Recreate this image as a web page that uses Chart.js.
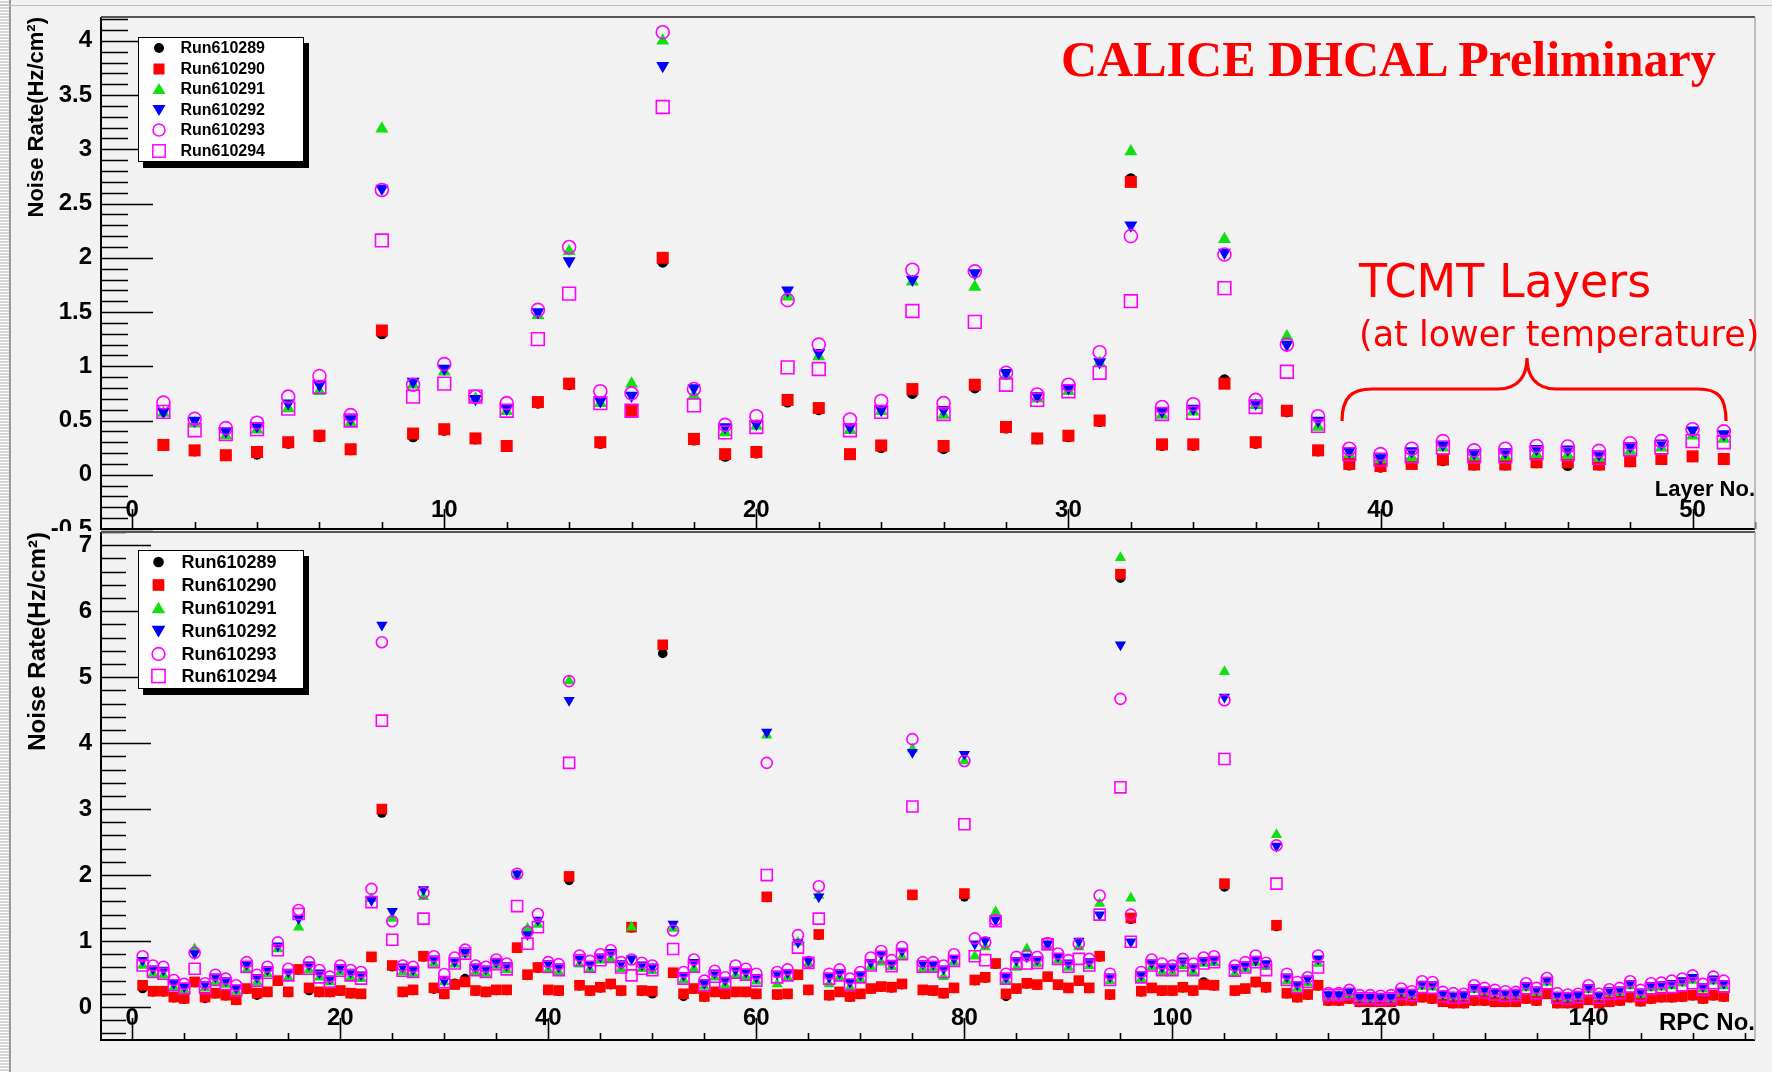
<!DOCTYPE html>
<html>
<head>
<meta charset="utf-8">
<script src="https://cdn.jsdelivr.net/npm/chart.js@4.4.0/dist/chart.umd.min.js"></script>
<style>
  body { margin: 0; background: #f2f2f2; }
  #page { position: relative; width: 1772px; height: 1072px; overflow: hidden; background: #f2f2f2;
          font-family: "Liberation Sans", Arial, Helvetica, sans-serif; }
  #page canvas { position: absolute; left: 0; }
  .strip { position: absolute; left: 0; top: 0; width: 9px; height: 1072px;
           background: repeating-linear-gradient(#ffffff 0 1px, #d6d6d6 1px 3px); }
  .vline { position: absolute; left: 9px; top: 0; width: 1.5px; height: 1072px; background: #9a9a9a; }
  .hline { position: absolute; left: 0; top: 5px; width: 1772px; height: 1px; background: #bdbdbd; }
  .legend { position: absolute; left: 138px; width: 166px; box-sizing: border-box; background: #fff;
            border: 1.5px solid #000; box-shadow: 5px 6px 0 #000; font-weight: bold; color: #000; }
  .legend .row { position: relative; }
  .legend svg { position: absolute; top: 50%; transform: translateY(-50%); }
  .legend span { position: absolute; top: 50%; transform: translateY(-50%); white-space: nowrap; }
  .note { position: absolute; white-space: nowrap; color: #ff0000; line-height: 1; }
</style>
</head>
<body>
<div id="page">
  <div class="strip"></div>
  <div class="vline"></div>
  <div class="hline"></div>
  <canvas id="layerChart" width="1772" height="531" style="top:0;width:1772px;height:531px"></canvas>
  <canvas id="rpcChart" width="1772" height="541" style="top:531px;width:1772px;height:541px"></canvas>
  <div id="legendTop" class="legend" style="top:37px;font-size:16px"></div>
  <div id="legendBottom" class="legend" style="top:550px;font-size:18px"></div>
  <div class="note" style="left:1061px;top:34px;font:bold 50px 'Liberation Serif','Times New Roman',serif;line-height:1">CALICE DHCAL Preliminary</div>
  <div class="note" style="left:1359px;top:258px;font:46px 'DejaVu Sans',Verdana,sans-serif;line-height:1">TCMT Layers</div>
  <div class="note" style="left:1359px;top:317px;font:35px 'DejaVu Sans',Verdana,sans-serif;line-height:1">(at lower temperature)</div>
  <svg style="position:absolute;left:0;top:0" width="1772" height="1072">
    <path d="M1342,421 C1342,397 1352,389 1372,389 L1498,389 C1518,389 1527,376 1527,358 C1527,376 1536,389 1556,389 L1698,389 C1718,389 1726,397 1726,421"
          fill="none" stroke="#ff0000" stroke-width="3.2"/>
  </svg>
</div>
<script>
// ---- top panel: noise rate per layer ----
const layerNo = Array.from({ length: 51 }, (_, i) => i + 1);

const lay289 = [0.27, 0.22, 0.18, 0.19, 0.29, 0.35, 0.23, 1.30, 0.35, 0.41,
  0.33, 0.26, 0.66, 0.83, 0.29, 0.60, 1.96, 0.32, 0.17, 0.20,
  0.67, 0.60, 0.19, 0.25, 0.75, 0.24, 0.80, 0.43, 0.33, 0.35,
  0.49, 2.73, 0.27, 0.27, 0.875, 0.29, 0.58, 0.22, 0.09, 0.07,
  0.10, 0.13, 0.09, 0.09, 0.11, 0.085, 0.09, 0.12, 0.14, 0.165, 0.14];
const lay290 = [0.275, 0.225, 0.18, 0.21, 0.30, 0.36, 0.235, 1.33, 0.38, 0.42,
  0.335, 0.265, 0.67, 0.84, 0.30, 0.59, 2.00, 0.33, 0.19, 0.21,
  0.69, 0.615, 0.19, 0.27, 0.79, 0.265, 0.83, 0.44, 0.335, 0.36,
  0.50, 2.70, 0.28, 0.28, 0.84, 0.30, 0.59, 0.225, 0.10, 0.08,
  0.10, 0.14, 0.095, 0.095, 0.115, 0.115, 0.095, 0.125, 0.145, 0.17, 0.145];
const lay291 = [0.57, 0.47, 0.36, 0.415, 0.61, 0.77, 0.48, 3.19, 0.83, 0.95,
  0.70, 0.585, 1.47, 2.06, 0.66, 0.84, 4.00, 0.73, 0.39, 0.45,
  1.64, 1.09, 0.41, 0.585, 1.78, 0.55, 1.73, 0.91, 0.70, 0.77,
  1.03, 2.98, 0.55, 0.58, 2.17, 0.64, 1.275, 0.44, 0.19, 0.14,
  0.16, 0.25, 0.165, 0.165, 0.19, 0.18, 0.155, 0.22, 0.25, 0.36, 0.33];
const lay292 = [0.58, 0.50, 0.40, 0.45, 0.66, 0.83, 0.515, 2.64, 0.86, 0.98,
  0.70, 0.61, 1.50, 1.97, 0.68, 0.73, 3.77, 0.80, 0.44, 0.47,
  1.70, 1.125, 0.44, 0.60, 1.80, 0.60, 1.86, 0.94, 0.725, 0.80,
  1.04, 2.30, 0.585, 0.61, 2.05, 0.66, 1.20, 0.50, 0.22, 0.155,
  0.22, 0.28, 0.20, 0.21, 0.24, 0.235, 0.19, 0.265, 0.29, 0.41, 0.375];
const lay293 = [0.665, 0.515, 0.43, 0.48, 0.72, 0.91, 0.55, 2.625, 0.83, 1.02,
  0.72, 0.66, 1.52, 2.10, 0.77, 0.75, 4.08, 0.79, 0.46, 0.54,
  1.61, 1.20, 0.51, 0.68, 1.89, 0.66, 1.875, 0.94, 0.74, 0.83,
  1.13, 2.20, 0.625, 0.65, 2.03, 0.69, 1.20, 0.54, 0.24, 0.19,
  0.24, 0.31, 0.225, 0.24, 0.265, 0.26, 0.22, 0.29, 0.31, 0.42, 0.40];
const lay294 = [0.58, 0.41, 0.375, 0.42, 0.61, 0.81, 0.50, 2.16, 0.72, 0.84,
  0.72, 0.59, 1.25, 1.67, 0.66, 0.59, 3.39, 0.64, 0.39, 0.44,
  0.99, 0.975, 0.41, 0.58, 1.51, 0.56, 1.41, 0.83, 0.69, 0.77,
  0.94, 1.60, 0.56, 0.57, 1.72, 0.625, 0.95, 0.45, 0.19, 0.14,
  0.17, 0.25, 0.17, 0.17, 0.20, 0.19, 0.155, 0.235, 0.25, 0.31, 0.30];

// ---- bottom panel: noise rate per RPC ----
const rpcNo = Array.from({ length: 153 }, (_, i) => i + 1);

const rpc289 = [0.28, 0.23, 0.23, 0.14, 0.12, 0.37, 0.13, 0.20, 0.17, 0.10,
  0.27, 0.18, 0.22, 0.39, 0.22, 0.56, 0.25, 0.22, 0.22, 0.24,
  0.20, 0.19, 0.75, 2.94, 0.61, 0.22, 0.25, 0.76, 0.27, 0.19,
  0.36, 0.43, 0.24, 0.22, 0.25, 0.25, 0.89, 0.48, 0.59, 0.25,
  0.24, 1.92, 0.32, 0.24, 0.29, 0.34, 0.24, 1.20, 0.24, 0.20,
  5.36, 0.51, 0.16, 0.27, 0.15, 0.22, 0.19, 0.22, 0.22, 0.19,
  1.66, 0.18, 0.19, 0.48, 0.25, 1.09, 0.17, 0.22, 0.15, 0.19,
  0.27, 0.30, 0.29, 0.34, 1.69, 0.25, 0.24, 0.20, 0.28, 1.67,
  0.40, 0.44, 0.65, 0.16, 0.27, 0.35, 0.33, 0.45, 0.33, 0.28,
  0.39, 0.28, 0.76, 0.18, 6.50, 1.33, 0.23, 0.28, 0.24, 0.24,
  0.29, 0.24, 0.38, 0.32, 1.82, 0.24, 0.27, 0.37, 0.29, 1.22,
  0.20, 0.14, 0.18, 0.32, 0.09, 0.09, 0.12, 0.07, 0.07, 0.07,
  0.07, 0.09, 0.09, 0.14, 0.12, 0.07, 0.05, 0.05, 0.09, 0.09,
  0.07, 0.07, 0.07, 0.12, 0.09, 0.19, 0.05, 0.05, 0.05, 0.10,
  0.05, 0.07, 0.09, 0.14, 0.08, 0.12, 0.14, 0.14, 0.15, 0.17,
  0.12, 0.17, 0.15];
const rpc290 = [0.33, 0.24, 0.24, 0.15, 0.13, 0.38, 0.15, 0.21, 0.18, 0.11,
  0.28, 0.21, 0.23, 0.40, 0.23, 0.57, 0.29, 0.23, 0.23, 0.25,
  0.21, 0.20, 0.76, 3.00, 0.63, 0.23, 0.26, 0.77, 0.29, 0.20,
  0.34, 0.38, 0.25, 0.23, 0.26, 0.26, 0.90, 0.49, 0.60, 0.26,
  0.25, 1.98, 0.33, 0.25, 0.30, 0.35, 0.25, 1.21, 0.25, 0.24,
  5.49, 0.52, 0.20, 0.28, 0.16, 0.23, 0.20, 0.23, 0.23, 0.20,
  1.67, 0.19, 0.20, 0.49, 0.26, 1.10, 0.18, 0.23, 0.16, 0.20,
  0.28, 0.31, 0.30, 0.35, 1.70, 0.26, 0.25, 0.21, 0.29, 1.72,
  0.41, 0.45, 0.66, 0.20, 0.28, 0.36, 0.34, 0.46, 0.34, 0.29,
  0.40, 0.29, 0.77, 0.19, 6.56, 1.35, 0.24, 0.29, 0.25, 0.25,
  0.30, 0.25, 0.34, 0.33, 1.87, 0.25, 0.28, 0.38, 0.30, 1.24,
  0.21, 0.15, 0.19, 0.33, 0.10, 0.10, 0.13, 0.08, 0.08, 0.08,
  0.08, 0.10, 0.10, 0.15, 0.13, 0.08, 0.06, 0.06, 0.10, 0.10,
  0.08, 0.08, 0.08, 0.13, 0.10, 0.20, 0.06, 0.06, 0.06, 0.11,
  0.06, 0.08, 0.10, 0.15, 0.09, 0.13, 0.15, 0.15, 0.16, 0.18,
  0.13, 0.18, 0.16];
const rpc291 = [0.63, 0.505, 0.48, 0.30, 0.26, 0.88, 0.29, 0.38, 0.34, 0.24,
  0.56, 0.38, 0.505, 0.88, 0.45, 1.21, 0.56, 0.45, 0.38, 0.53,
  0.45, 0.43, 1.64, 7.50, 1.34, 0.53, 0.505, 1.67, 0.66, 0.38,
  0.65, 0.80, 0.53, 0.505, 0.63, 0.56, 2.00, 1.19, 1.25, 0.56,
  0.53, 4.94, 0.65, 0.57, 0.71, 0.73, 0.58, 1.21, 0.58, 0.55,
  10.9, 1.19, 0.41, 0.58, 0.31, 0.45, 0.33, 0.48, 0.46, 0.39,
  4.12, 0.35, 0.45, 0.98, 0.66, 1.69, 0.35, 0.45, 0.30, 0.43,
  0.61, 0.68, 0.61, 0.76, 3.91, 0.58, 0.58, 0.46, 0.68, 3.73,
  0.77, 0.91, 1.44, 0.40, 0.60, 0.88, 0.66, 0.93, 0.71, 0.60,
  0.91, 0.62, 1.57, 0.39, 6.81, 1.65, 0.43, 0.61, 0.53, 0.52,
  0.62, 0.53, 0.66, 0.67, 5.08, 0.505, 0.58, 0.67, 0.61, 2.61,
  0.39, 0.28, 0.36, 0.66, 0.16, 0.16, 0.19, 0.13, 0.12, 0.13,
  0.12, 0.21, 0.18, 0.31, 0.30, 0.17, 0.15, 0.15, 0.26, 0.23,
  0.20, 0.18, 0.18, 0.29, 0.22, 0.37, 0.15, 0.13, 0.15, 0.26,
  0.15, 0.21, 0.22, 0.32, 0.19, 0.29, 0.30, 0.32, 0.36, 0.40,
  0.27, 0.39, 0.32];
const rpc292 = [0.71, 0.58, 0.56, 0.36, 0.31, 0.81, 0.34, 0.46, 0.40, 0.29,
  0.65, 0.45, 0.57, 0.93, 0.53, 1.34, 0.64, 0.52, 0.43, 0.60,
  0.53, 0.49, 1.62, 5.79, 1.45, 0.61, 0.57, 1.78, 0.73, 0.40,
  0.69, 0.83, 0.61, 0.58, 0.68, 0.63, 2.02, 1.10, 1.32, 0.66,
  0.61, 4.65, 0.73, 0.65, 0.76, 0.83, 0.66, 0.73, 0.64, 0.61,
  10.1, 1.26, 0.48, 0.68, 0.36, 0.52, 0.41, 0.56, 0.53, 0.45,
  4.17, 0.505, 0.52, 0.98, 0.71, 1.67, 0.45, 0.52, 0.38, 0.49,
  0.68, 0.80, 0.66, 0.85, 3.86, 0.66, 0.65, 0.58, 0.73, 3.83,
  0.96, 1.01, 1.32, 0.45, 0.71, 0.76, 0.72, 0.96, 0.77, 0.67,
  1.00, 0.69, 1.40, 0.46, 5.49, 0.99, 0.49, 0.67, 0.61, 0.61,
  0.70, 0.61, 0.71, 0.72, 4.70, 0.60, 0.63, 0.71, 0.66, 2.44,
  0.46, 0.34, 0.43, 0.73, 0.19, 0.19, 0.24, 0.15, 0.15, 0.15,
  0.15, 0.24, 0.21, 0.35, 0.34, 0.20, 0.18, 0.18, 0.30, 0.26,
  0.23, 0.21, 0.21, 0.33, 0.26, 0.41, 0.18, 0.16, 0.18, 0.30,
  0.18, 0.25, 0.26, 0.36, 0.23, 0.33, 0.34, 0.36, 0.40, 0.45,
  0.31, 0.43, 0.36];
const rpc293 = [0.77, 0.63, 0.61, 0.41, 0.35, 0.82, 0.36, 0.49, 0.43, 0.33,
  0.68, 0.49, 0.61, 0.98, 0.58, 1.47, 0.68, 0.56, 0.46, 0.63,
  0.56, 0.53, 1.79, 5.53, 1.30, 0.63, 0.61, 1.73, 0.77, 0.50,
  0.75, 0.87, 0.63, 0.61, 0.72, 0.66, 2.02, 1.14, 1.41, 0.68,
  0.65, 4.94, 0.78, 0.70, 0.80, 0.86, 0.68, 0.72, 0.67, 0.63,
  10.9, 1.16, 0.53, 0.72, 0.40, 0.55, 0.45, 0.63, 0.58, 0.505,
  3.70, 0.53, 0.57, 1.09, 0.68, 1.83, 0.505, 0.57, 0.43, 0.53,
  0.75, 0.85, 0.71, 0.91, 4.06, 0.68, 0.68, 0.63, 0.80, 3.73,
  1.04, 0.98, 1.32, 0.505, 0.76, 0.78, 0.76, 0.97, 0.81, 0.71,
  0.96, 0.73, 1.69, 0.505, 4.67, 1.40, 0.53, 0.72, 0.66, 0.63,
  0.73, 0.66, 0.75, 0.77, 4.65, 0.63, 0.68, 0.78, 0.67, 2.45,
  0.505, 0.38, 0.45, 0.78, 0.21, 0.21, 0.26, 0.18, 0.18, 0.17,
  0.18, 0.28, 0.24, 0.39, 0.38, 0.23, 0.21, 0.20, 0.33, 0.29,
  0.26, 0.24, 0.23, 0.36, 0.29, 0.44, 0.21, 0.19, 0.20, 0.33,
  0.20, 0.27, 0.29, 0.39, 0.26, 0.36, 0.37, 0.40, 0.43, 0.48,
  0.35, 0.46, 0.40];
const rpc294 = [0.63, 0.53, 0.505, 0.33, 0.28, 0.58, 0.29, 0.41, 0.35, 0.25,
  0.61, 0.40, 0.52, 0.86, 0.48, 1.41, 0.58, 0.45, 0.38, 0.55,
  0.48, 0.43, 1.59, 4.34, 1.02, 0.55, 0.53, 1.34, 0.68, 0.38,
  0.66, 0.81, 0.56, 0.53, 0.65, 0.57, 1.53, 0.96, 1.21, 0.61,
  0.56, 3.70, 0.71, 0.61, 0.71, 0.76, 0.60, 0.48, 0.58, 0.56,
  9.00, 0.88, 0.43, 0.61, 0.33, 0.46, 0.36, 0.52, 0.49, 0.40,
  2.00, 0.45, 0.48, 0.90, 0.67, 1.34, 0.43, 0.48, 0.34, 0.45,
  0.63, 0.76, 0.62, 0.80, 3.04, 0.61, 0.61, 0.53, 0.70, 2.77,
  0.77, 0.71, 1.30, 0.43, 0.66, 0.66, 0.67, 0.95, 0.73, 0.61,
  0.73, 0.63, 1.40, 0.41, 3.33, 0.99, 0.45, 0.63, 0.56, 0.56,
  0.63, 0.56, 0.66, 0.68, 3.76, 0.55, 0.60, 0.68, 0.56, 1.87,
  0.41, 0.30, 0.38, 0.60, 0.18, 0.18, 0.20, 0.13, 0.13, 0.12,
  0.13, 0.20, 0.18, 0.30, 0.29, 0.16, 0.14, 0.15, 0.25, 0.22,
  0.19, 0.17, 0.18, 0.28, 0.21, 0.36, 0.14, 0.13, 0.15, 0.25,
  0.14, 0.20, 0.21, 0.31, 0.18, 0.28, 0.29, 0.30, 0.33, 0.36,
  0.26, 0.36, 0.31];

const runNames = ['Run610289', 'Run610290', 'Run610291', 'Run610292', 'Run610293', 'Run610294'];

// ROOT-like markers: full circle, full square, up/down triangle, open circle, open square
const markers = [
  { style: 'circle', rot: 0, color: '#000000', filled: true },
  { style: 'rect', rot: 0, color: '#ff0000', filled: true },
  { style: 'triangle', rot: 0, color: '#10e010', filled: true },
  { style: 'triangle', rot: 180, color: '#0000ff', filled: true },
  { style: 'circle', rot: 0, color: '#ff00ff', filled: false },
  { style: 'rect', rot: 0, color: '#ff00ff', filled: false },
];

Chart.defaults.font.family = '"Liberation Sans", Arial, Helvetica, sans-serif';
Chart.defaults.color = '#000';

function makeDatasets(xs, series, radii) {
  return series.map((ys, i) => {
    const m = markers[i];
    const fill = m.filled ? m.color : 'rgba(0,0,0,0)';
    return {
      label: runNames[i],
      data: xs.map((x, k) => ({ x: x, y: ys[k] })),
      showLine: false,
      order: 6 - i, // later runs drawn on top, as in the original
      pointStyle: m.style,
      pointRotation: m.rot,
      rotation: m.rot,
      pointRadius: radii[i],
      pointHoverRadius: radii[i],
      backgroundColor: fill,
      pointBackgroundColor: fill,
      borderColor: m.color,
      pointBorderColor: m.color,
      borderWidth: m.filled ? 0 : 1.6,
      pointBorderWidth: m.filled ? 0 : 1.6,
    };
  });
}

// inward ticks and frame drawn in ROOT fashion
const rootAxes = {
  id: 'rootAxes',
  afterDatasetsDraw(chart, args, o) {
    const { ctx, chartArea: a, scales: { x, y } } = chart;
    const isMult = (v, step) => Math.abs(v / step - Math.round(v / step)) < 1e-6;
    ctx.save();
    ctx.strokeStyle = '#000';
    ctx.lineWidth = 1.6;
    ctx.beginPath();
    for (let k = Math.ceil(y.min / o.yMinor - 1e-6); k * o.yMinor <= y.max + 1e-9; k++) {
      const v = k * o.yMinor;
      const py = Math.round(y.getPixelForValue(v)) + 0.5;
      ctx.moveTo(a.left, py);
      ctx.lineTo(a.left + (isMult(v, o.yMajor) ? o.yMajorLen : o.yMinorLen), py);
    }
    for (let k = Math.ceil(x.min / o.xMinor - 1e-6); k * o.xMinor <= x.max + 1e-9; k++) {
      const v = k * o.xMinor;
      if (v < 0) continue;
      const px = Math.round(x.getPixelForValue(v)) + 0.5;
      ctx.moveTo(px, a.bottom);
      ctx.lineTo(px, a.bottom - (isMult(v, o.xMajor) ? o.xMajorLen : o.xMinorLen));
    }
    ctx.stroke();

    ctx.lineWidth = 2;
    ctx.beginPath();
    ctx.moveTo(a.left, a.top);
    ctx.lineTo(a.left, a.bottom);
    ctx.lineTo(a.right, a.bottom);
    ctx.stroke();
    ctx.strokeStyle = '#555';
    ctx.beginPath();
    ctx.moveTo(a.left, a.top);
    ctx.lineTo(a.right, a.top);
    ctx.stroke();
    ctx.strokeStyle = '#aaa';
    ctx.lineWidth = 1.5;
    ctx.beginPath();
    ctx.moveTo(a.right, a.top);
    ctx.lineTo(a.right, a.bottom);
    ctx.stroke();
    ctx.restore();
  }
};

function makeOptions(p) {
  return {
    responsive: false,
    animation: false,
    devicePixelRatio: 1,
    events: [],
    layout: { autoPadding: false, padding: { left: 0, right: 17, top: p.padTop, bottom: 0 } },
    plugins: {
      legend: { display: false },
      tooltip: { enabled: false },
      rootAxes: p.ticks,
    },
    scales: {
      x: {
        type: 'linear', min: p.xmin, max: p.xmax,
        grid: { display: false, drawTicks: false },
        border: { display: false },
        ticks: {
          // ROOT puts the numbers inside the frame, just above the axis
          mirror: true,
          stepSize: p.xstep, includeBounds: false, autoSkip: false, maxRotation: 0, minRotation: 0,
          padding: p.xLabelPad, font: { size: 24, weight: 'bold' },
          callback: v => String(v),
        },
        title: {
          display: true, text: p.xTitle, align: 'end',
          font: { size: p.xTitleSize, weight: 'bold' },
          padding: { top: 0, bottom: p.xTitlePad },
        },
        afterFit: s => { s.height = p.xHeight; s.paddingLeft = 0; s.paddingRight = 0; },
      },
      y: {
        type: 'linear', min: p.ymin, max: p.ymax,
        grid: { display: false, drawTicks: false },
        border: { display: false },
        ticks: {
          stepSize: p.ystep, includeBounds: false, padding: 9,
          font: { size: 24, weight: 'bold' },
          callback: v => String(+v.toFixed(2)),
        },
        title: {
          display: true, text: 'Noise Rate(Hz/cm²)', align: 'end',
          font: { size: p.yTitleSize, weight: 'bold' },
          padding: { top: p.yTitlePad, bottom: 0 },
        },
        afterFit: s => { s.width = 101; s.paddingTop = 0; s.paddingBottom = 0; },
      },
    },
  };
}

new Chart(document.getElementById('layerChart'), {
  type: 'scatter',
  data: { datasets: makeDatasets(layerNo, [lay289, lay290, lay291, lay292, lay293, lay294], [5.5, 8.5, 7.5, 7.5, 6.5, 9]) },
  options: makeOptions({
    padTop: 17, xmin: -1, xmax: 52, xstep: 10, ymin: -0.5, ymax: 4.22, ystep: 0.5,
    xLabelPad: 4, xHeight: 2, xTitle: 'Layer No.', xTitleSize: 22, xTitlePad: 28,
    yTitleSize: 22, yTitlePad: 24,
    ticks: { yMinor: 0.1, yMajor: 0.5, yMajorLen: 52, yMinorLen: 27, xMinor: 2, xMajor: 10, xMajorLen: 20, xMinorLen: 7 },
  }),
  plugins: [rootAxes],
});

new Chart(document.getElementById('rpcChart'), {
  type: 'scatter',
  data: { datasets: makeDatasets(rpcNo, [rpc289, rpc290, rpc291, rpc292, rpc293, rpc294], [4.8, 7.5, 6.5, 6.5, 5.5, 7.8]) },
  options: makeOptions({
    padTop: 1, xmin: -3, xmax: 156, xstep: 20, ymin: -0.5, ymax: 7.2, ystep: 1,
    xLabelPad: 7, xHeight: 32, xTitle: 'RPC No.', xTitleSize: 24, xTitlePad: 34,
    yTitleSize: 24, yTitlePad: 24,
    ticks: { yMinor: 0.2, yMajor: 1, yMajorLen: 50, yMinorLen: 25, xMinor: 5, xMajor: 20, xMajorLen: 22, xMinorLen: 7 },
  }),
  plugins: [rootAxes],
});

// legends (ROOT TLegend look: white box with a black drop shadow)
function markerSvg(i, s) {
  const c = markers[i].color;
  const shapes = [
    `<circle cx="8" cy="8" r="5" fill="${c}"/>`,
    `<rect x="2.5" y="2.5" width="11" height="11" fill="${c}"/>`,
    `<polygon points="8,2 14.5,13 1.5,13" fill="${c}"/>`,
    `<polygon points="1.5,3 14.5,3 8,14" fill="${c}"/>`,
    `<circle cx="8" cy="8" r="6" fill="none" stroke="${c}" stroke-width="1.5"/>`,
    `<rect x="1.8" y="1.8" width="12.4" height="12.4" fill="none" stroke="${c}" stroke-width="1.5"/>`,
  ];
  return `<svg width="${s}" height="${s}" viewBox="0 0 16 16" style="left:${19.5 - s / 2}px">${shapes[i]}</svg>`;
}
function fillLegend(id, rowH, s, textLeft) {
  document.getElementById(id).innerHTML = runNames.map((name, i) =>
    `<div class="row" style="height:${rowH}px">${markerSvg(i, s)}<span style="left:${textLeft}px">${name}</span></div>`
  ).join('');
}
fillLegend('legendTop', 20.5, 16, 41.5);
fillLegend('legendBottom', 22.8, 17, 42.5);
</script>
</body>
</html>
